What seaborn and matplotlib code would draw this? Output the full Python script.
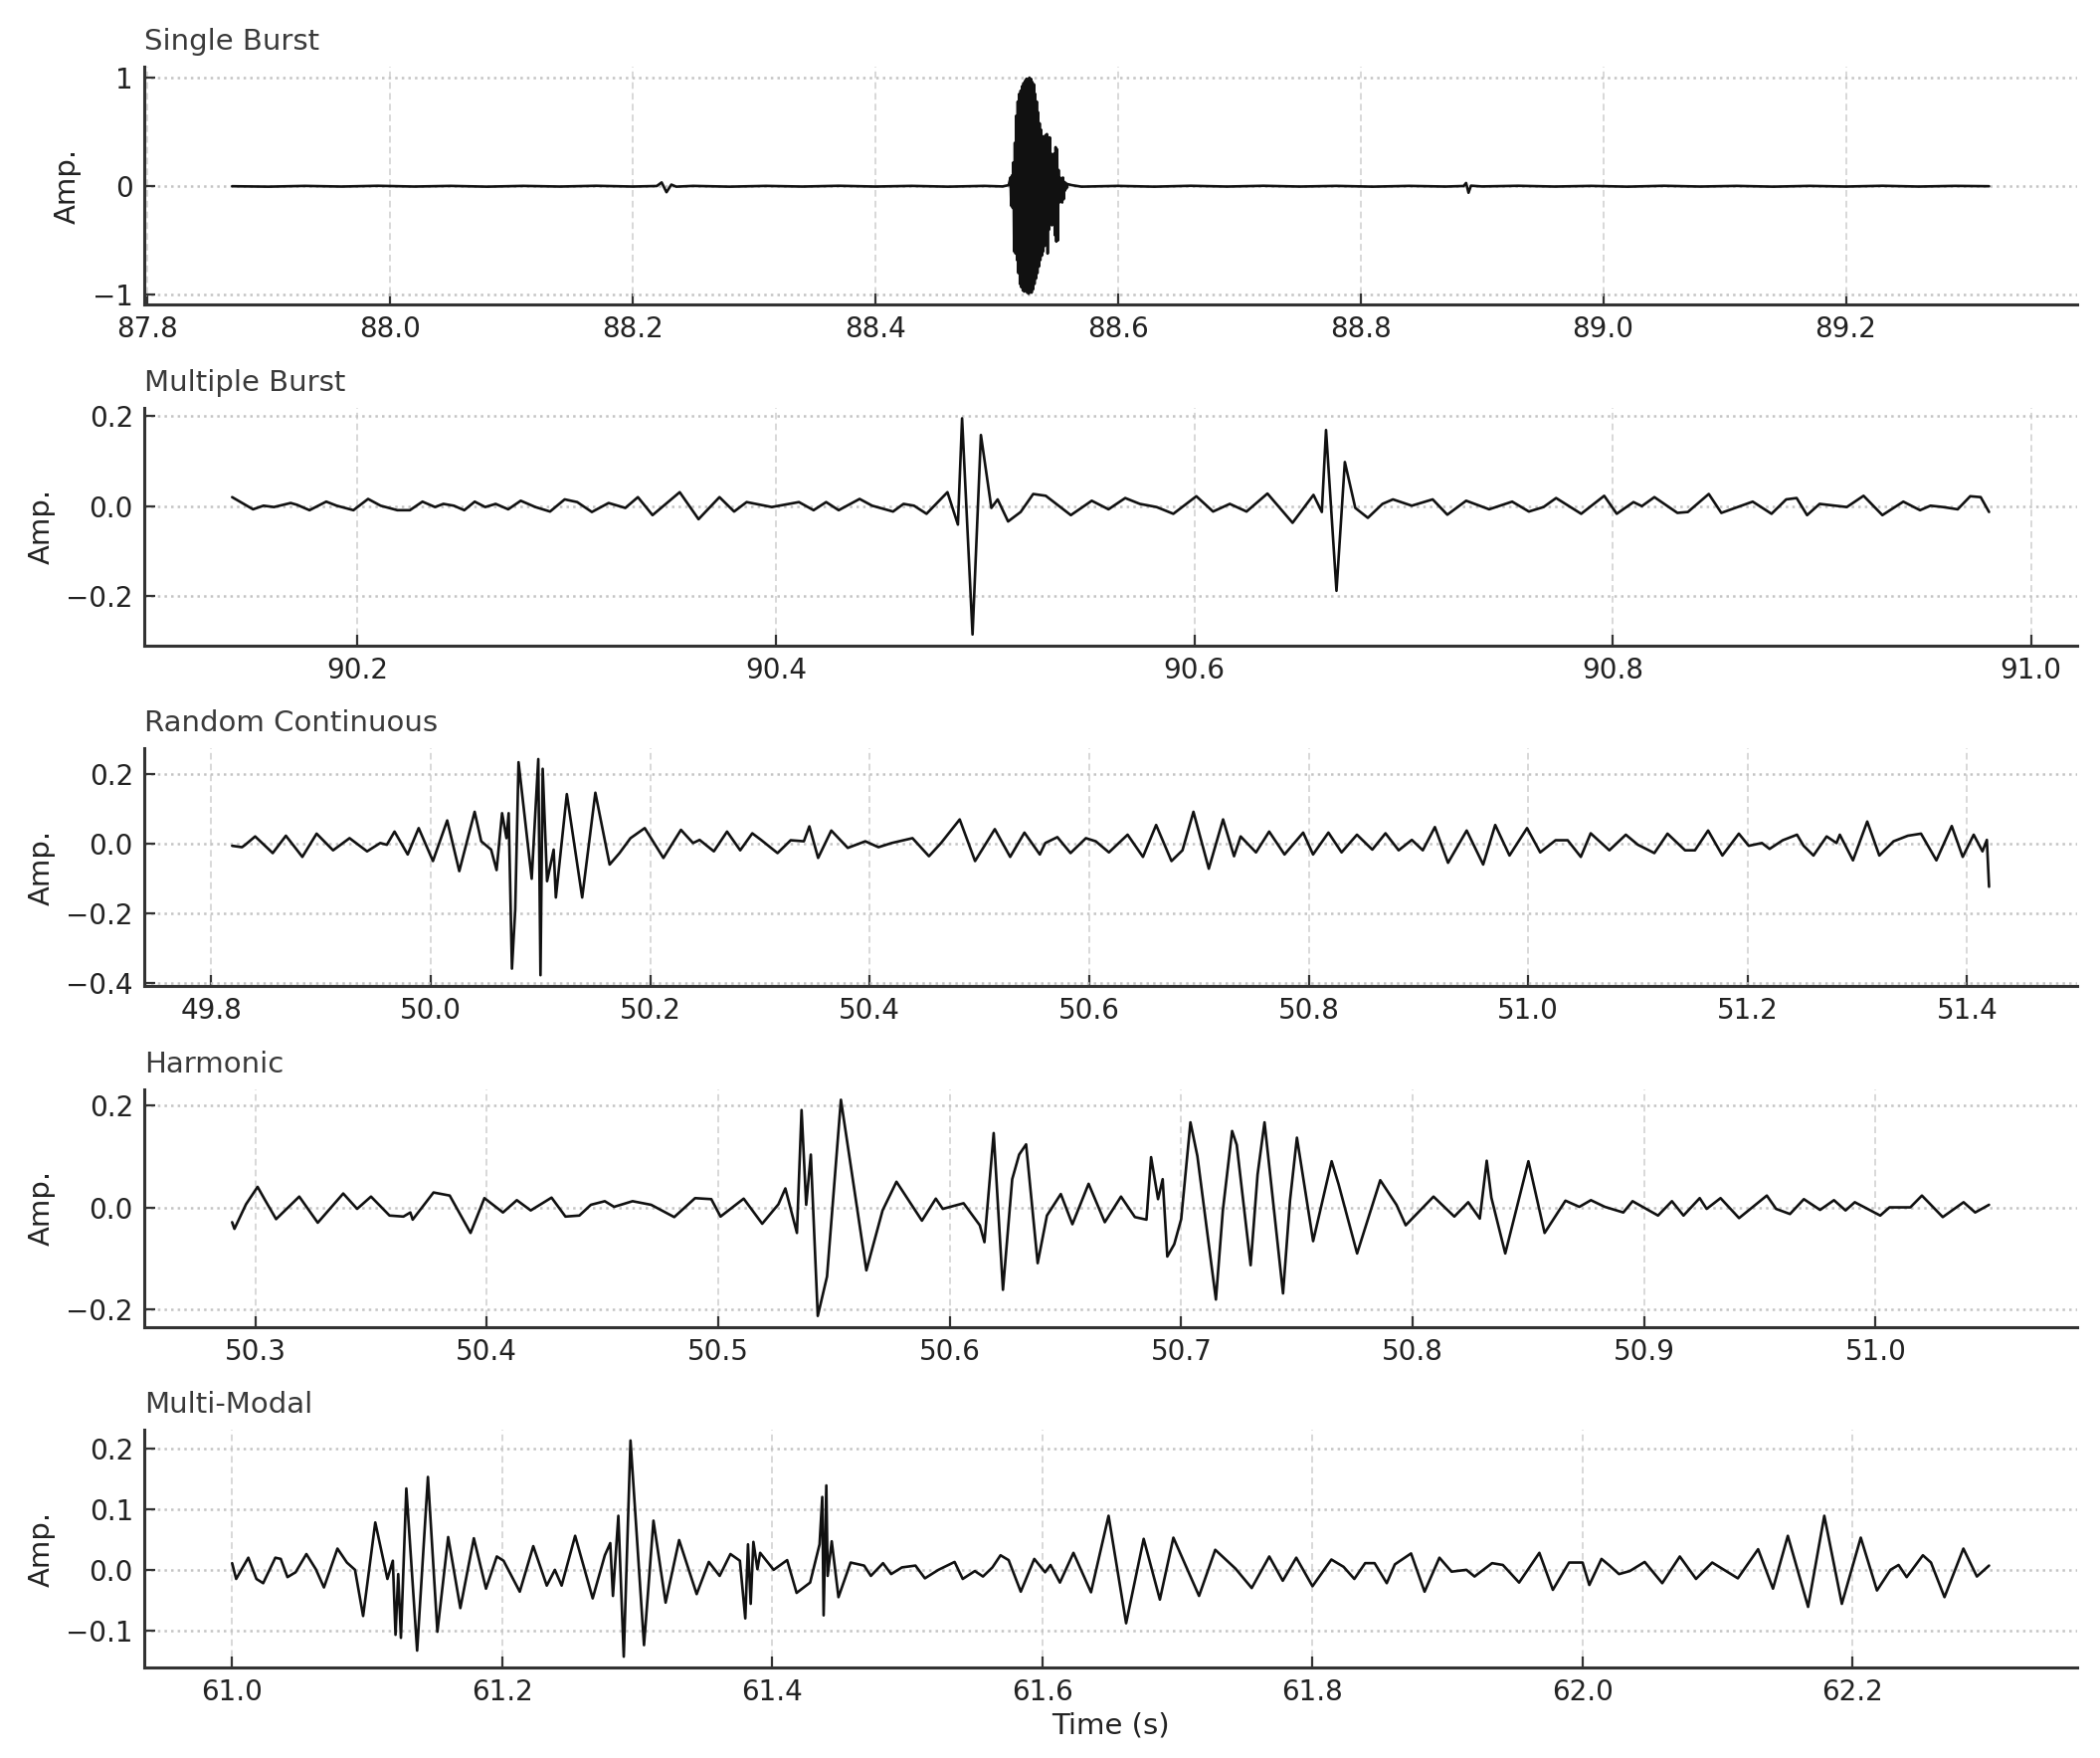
import matplotlib
matplotlib.use("Agg")
import pandas as pd
import matplotlib.pyplot as plt
from matplotlib.ticker import MultipleLocator
import seaborn as sns

# Single Burst
single_t = [87.870, 87.900, 87.930, 87.960, 87.990, 88.020, 88.050, 88.080, 88.110, 88.140,
            88.170, 88.200, 88.220, 88.224, 88.228, 88.232, 88.236, 88.250, 88.280, 88.310,
            88.340, 88.370, 88.400, 88.430, 88.460, 88.490, 88.505, 88.510,
            88.5115, 88.5121, 88.5127, 88.5133, 88.5139, 88.5145, 88.5151, 88.5157, 88.5163, 88.5169,
            88.5175, 88.5181, 88.5187, 88.5193, 88.5199, 88.5205, 88.5211, 88.5217, 88.5223, 88.5229,
            88.5235, 88.5241, 88.5247, 88.5253, 88.5259, 88.5265, 88.5271, 88.5277, 88.5283, 88.5289,
            88.5295, 88.5301, 88.5307, 88.5313, 88.5319, 88.5325, 88.5331, 88.5337, 88.5343, 88.5349,
            88.5355, 88.5361, 88.5367, 88.5373, 88.5379, 88.5385, 88.5391, 88.5397, 88.5403, 88.5409,
            88.5415, 88.5421, 88.5427, 88.5433, 88.5439, 88.5445, 88.5451, 88.5457, 88.5463, 88.5469,
            88.5475, 88.5481, 88.5487, 88.5493, 88.5499, 88.5505, 88.5511, 88.5517, 88.5523, 88.5529,
            88.5535, 88.5541, 88.5547, 88.5553, 88.5559, 88.5565, 88.5571, 88.5577, 88.5583,
            88.562, 88.570, 88.600, 88.630, 88.660, 88.690, 88.720, 88.750, 88.780, 88.810,
            88.840, 88.870, 88.885, 88.887, 88.889, 88.891, 88.900, 88.930, 88.960, 88.990,
            89.020, 89.050, 89.080, 89.110, 89.140, 89.170, 89.200, 89.230, 89.260, 89.290, 89.318]
single_amp = [0.000, -0.004, 0.003, -0.003, 0.004, -0.003, 0.003, -0.004, 0.003, -0.003,
              0.004, -0.003, 0.002, 0.035, -0.055, 0.015, -0.004, 0.003, -0.004, 0.003,
              -0.003, 0.004, -0.003, 0.003, -0.004, 0.003, -0.002, 0.010,
              0.08, -0.18, 0.10, -0.20, 0.22, -0.60, 0.40, -0.62, 0.65, -0.68,
              0.78, -0.80, 0.85, -0.90, 0.88, -0.93, 0.92, -0.96, 0.95, -0.97,
              0.97, -0.95, 0.99, -0.98, 0.98, -0.99, 1.00, -0.97, 0.99, -0.98,
              0.96, -0.95, 0.94, -0.90, 0.85, -0.85, 0.78, -0.80, 0.68, -0.74,
              0.58, -0.68, 0.52, -0.64, 0.46, -0.60, 0.44, -0.55, 0.47, -0.50,
              0.48, -0.62, 0.45, -0.40, 0.45, -0.28, 0.30, -0.36, 0.22, -0.34,
              0.30, -0.45, 0.36, -0.51, 0.34, -0.50, 0.15, -0.15, 0.08, -0.14,
              0.07, -0.15, 0.08, -0.12, 0.04, -0.04, 0.03, -0.02, 0.02,
              0.010, -0.004, 0.003, -0.004, 0.004, -0.003, 0.004, -0.003, 0.003, -0.004,
              0.003, -0.003, 0.002, 0.030, -0.060, 0.005, -0.002, 0.004, -0.003, 0.003,
              -0.004, 0.004, -0.003, 0.003, -0.004, 0.003, -0.003, 0.004, -0.003, 0.003, 0.000]

# Multiple Burst
multi_t = [90.140, 90.150, 90.155, 90.160, 90.168, 90.171, 90.177, 90.185, 90.190, 90.198,
           90.205, 90.211, 90.219, 90.225, 90.231, 90.237, 90.241, 90.246, 90.251, 90.256,
           90.261, 90.266, 90.272, 90.278, 90.285, 90.292, 90.299, 90.305, 90.312, 90.320,
           90.328, 90.334, 90.341, 90.354, 90.363, 90.373, 90.380, 90.386, 90.398, 90.411,
           90.418, 90.424, 90.430, 90.440, 90.446, 90.456, 90.461, 90.466, 90.472, 90.482,
           90.487, 90.489, 90.494, 90.498, 90.503, 90.506, 90.511, 90.517, 90.523,
           90.529, 90.541, 90.551, 90.559, 90.567, 90.574, 90.582, 90.590, 90.601, 90.609,
           90.617, 90.625, 90.635, 90.647, 90.657, 90.661, 90.663, 90.668, 90.672, 90.677,
           90.683, 90.690, 90.695, 90.704, 90.714, 90.721, 90.730, 90.741, 90.752, 90.760,
           90.767, 90.773, 90.785, 90.796, 90.802, 90.810, 90.814, 90.820, 90.831, 90.836,
           90.846, 90.852, 90.867, 90.876, 90.883, 90.888, 90.893, 90.899, 90.912, 90.920,
           90.929, 90.939, 90.947, 90.952, 90.958, 90.965, 90.971, 90.976, 90.980]
multi_amp = [0.020, -0.007, 0.001, -0.002, 0.007, 0.003, -0.009, 0.010, 0.001, -0.009,
             0.016, 0.001, -0.009, -0.009, 0.010, -0.002, 0.005, 0.001, -0.009, 0.010,
             -0.002, 0.005, -0.007, 0.012, -0.002, -0.012, 0.015, 0.009, -0.013, 0.007,
             -0.004, 0.020, -0.020, 0.031, -0.029, 0.020, -0.012, 0.009, -0.002, 0.009,
             -0.009, 0.009, -0.009, 0.016, 0.001, -0.012, 0.005, 0.001, -0.017, 0.031,
             -0.041, 0.195, -0.285, 0.158, -0.004, 0.015, -0.034, -0.013, 0.027,
             0.023, -0.020, 0.012, -0.007, 0.018, 0.005, -0.002, -0.017, 0.022, -0.012,
             0.005, -0.012, 0.028, -0.037, 0.025, -0.013, 0.169, -0.188, 0.098, -0.004,
             -0.026, 0.005, 0.015, 0.001, 0.015, -0.019, 0.012, -0.007, 0.010, -0.012,
             -0.002, 0.018, -0.017, 0.023, -0.017, 0.009, 0.000, 0.020, -0.015, -0.013,
             0.027, -0.015, 0.010, -0.017, 0.015, 0.018, -0.020, 0.005, -0.002, 0.023,
             -0.020, 0.010, -0.009, 0.001, -0.002, -0.007, 0.022, 0.020, -0.013]

# Random Continuous
random_t = [49.819, 49.828, 49.831, 49.840, 49.856, 49.868, 49.883, 49.896, 49.911, 49.926,
            49.942, 49.954, 49.960, 49.967, 49.979, 49.989, 50.002, 50.015, 50.026, 50.040,
            50.046, 50.055, 50.060, 50.065, 50.069, 50.071, 50.074, 50.077, 50.080, 50.092,
            50.098, 50.100, 50.102, 50.106, 50.112, 50.114, 50.124, 50.138, 50.150, 50.163,
            50.172, 50.182, 50.195, 50.212, 50.228, 50.239, 50.245, 50.258, 50.270, 50.282,
            50.293, 50.301, 50.316, 50.328, 50.340, 50.345, 50.353, 50.365, 50.380, 50.396,
            50.408, 50.420, 50.439, 50.454, 50.465, 50.482, 50.496, 50.514, 50.528, 50.541,
            50.555,
            50.560, 50.571, 50.583, 50.597, 50.606, 50.618, 50.635, 50.649, 50.661, 50.675,
            50.685, 50.695, 50.709, 50.722, 50.732, 50.738, 50.752, 50.764, 50.778, 50.795,
            50.804, 50.818, 50.830, 50.844, 50.858, 50.870, 50.882, 50.894, 50.904, 50.915,
            50.927, 50.944, 50.959, 50.970, 50.983, 50.999, 51.011, 51.025, 51.036, 51.048,
            51.057, 51.074, 51.089, 51.100, 51.115, 51.127, 51.143, 51.152, 51.164, 51.177,
            51.192, 51.201, 51.213, 51.220, 51.232, 51.245, 51.251, 51.260, 51.272, 51.281,
            51.284, 51.296, 51.309, 51.320, 51.333, 51.346, 51.358, 51.372, 51.386, 51.396,
            51.406, 51.414, 51.418, 51.420]
random_amp = [-0.006, -0.010, -0.003, 0.021, -0.027, 0.023, -0.038, 0.029, -0.019, 0.016,
              -0.022, 0.002, -0.003, 0.035, -0.031, 0.045, -0.050, 0.067, -0.079, 0.092,
              0.007, -0.017, -0.076, 0.088, 0.016, 0.088, -0.360, -0.189, 0.235, -0.101,
              0.244, -0.379, 0.216, -0.108, -0.017, -0.155, 0.143, -0.155, 0.147, -0.060,
              -0.027, 0.016, 0.045, -0.041, 0.040, 0.002, 0.011, -0.022, 0.035, -0.019,
              0.030, 0.011, -0.027, 0.010, 0.007, 0.050, -0.041, 0.038, -0.012, 0.007,
              -0.010, 0.002, 0.016, -0.036, 0.002, 0.070, -0.050, 0.042, -0.038, 0.032,
              -0.031,
              0.002, 0.019, -0.027, 0.016, 0.007, -0.025, 0.026, -0.038, 0.054, -0.050,
              -0.019, 0.092, -0.072, 0.070, -0.036, 0.021, -0.025, 0.035, -0.031, 0.032,
              -0.031, 0.032, -0.025, 0.026, -0.017, 0.030, -0.019, 0.011, -0.019, 0.048,
              -0.055, 0.038, -0.060, 0.054, -0.034, 0.045, -0.025, 0.010, 0.010, -0.038,
              0.030, -0.019, 0.026, -0.003, -0.027, 0.029, -0.019, -0.019, 0.038, -0.034,
              0.029, -0.006, 0.002, -0.015, 0.010, 0.026, -0.006, -0.034, 0.021, 0.002,
              0.026, -0.048, 0.064, -0.034, 0.007, 0.023, 0.029, -0.048, 0.051, -0.038,
              0.026, -0.022, 0.011, -0.124]

# Harmonic
harmonic_t = [50.290, 50.291, 50.296, 50.301, 50.304, 50.309, 50.319, 50.327, 50.338, 50.344,
              50.350, 50.358, 50.364, 50.367, 50.368, 50.377, 50.384, 50.393, 50.399, 50.407,
              50.413, 50.419, 50.428, 50.434, 50.440, 50.445, 50.451, 50.455, 50.463, 50.471,
              50.481, 50.490, 50.497, 50.501, 50.511, 50.519, 50.526, 50.529, 50.534, 50.536,
              50.538, 50.540, 50.543, 50.547, 50.553, 50.564, 50.571, 50.577, 50.588, 50.594,
              50.597, 50.606, 50.613, 50.615, 50.619, 50.623, 50.627, 50.630, 50.633, 50.638,
              50.642,
              50.648, 50.653, 50.660, 50.667, 50.674, 50.680, 50.685, 50.687, 50.690, 50.692,
              50.694, 50.697, 50.700, 50.704, 50.707, 50.715, 50.718, 50.722, 50.724, 50.730,
              50.733, 50.736, 50.744, 50.747, 50.750, 50.757, 50.765, 50.768, 50.776, 50.786,
              50.793, 50.797, 50.809, 50.818, 50.824, 50.829, 50.832, 50.834, 50.840, 50.850,
              50.857, 50.866, 50.872, 50.877, 50.883, 50.891, 50.895, 50.906, 50.912, 50.917,
              50.924, 50.927, 50.933, 50.941, 50.953, 50.957, 50.963, 50.969, 50.976, 50.982,
              50.987, 50.991, 51.002, 51.006, 51.015, 51.020, 51.029, 51.038, 51.043, 51.049]
harmonic_amp = [-0.029, -0.042, 0.006, 0.040, 0.016, -0.023, 0.021, -0.030, 0.027, -0.003,
                0.021, -0.016, -0.018, -0.010, -0.024, 0.029, 0.023, -0.050, 0.018, -0.010,
                0.014, -0.006, 0.019, -0.018, -0.016, 0.005, 0.012, 0.001, 0.012, 0.005,
                -0.019, 0.018, 0.016, -0.018, 0.017, -0.032, 0.006, 0.037, -0.050, 0.190,
                0.005, 0.103, -0.212, -0.135, 0.210, -0.123, -0.006, 0.050, -0.026, 0.017,
                -0.003, 0.008, -0.035, -0.068, 0.145, -0.161, 0.055, 0.103, 0.123, -0.109,
                -0.016,
                0.026, -0.033, 0.046, -0.029, 0.021, -0.019, -0.024, 0.098, 0.016, 0.055,
                -0.096, -0.072, -0.023, 0.166, 0.100, -0.180, -0.006, 0.149, 0.122, -0.113,
                0.064, 0.166, -0.168, 0.013, 0.136, -0.066, 0.090, 0.045, -0.090, 0.053,
                0.005, -0.035, 0.021, -0.018, 0.010, -0.022, 0.091, 0.019, -0.090, 0.090,
                -0.050, 0.013, 0.001, 0.014, 0.001, -0.010, 0.012, -0.016, 0.012, -0.016,
                0.018, -0.003, 0.018, -0.021, 0.023, -0.003, -0.013, 0.016, -0.005, 0.014,
                -0.006, 0.010, -0.016, 0.000, 0.000, 0.023, -0.019, 0.010, -0.010, 0.005]

# Multi-Modal
modal_t = [61.000, 61.003, 61.012, 61.018, 61.023, 61.032, 61.036, 61.041, 61.047, 61.055,
           61.062, 61.068, 61.078, 61.085, 61.091, 61.097, 61.106, 61.115, 61.119, 61.121,
           61.123, 61.125, 61.129, 61.137, 61.145, 61.152, 61.160, 61.169, 61.179, 61.188,
           61.196, 61.201, 61.213, 61.223, 61.233, 61.239, 61.244, 61.254, 61.267, 61.276,
           61.280, 61.282, 61.286, 61.290, 61.295, 61.305, 61.312, 61.321, 61.331, 61.344,
           61.353, 61.361, 61.369, 61.376, 61.380, 61.382, 61.384, 61.386, 61.389, 61.391,
           61.401, 61.411, 61.418, 61.428, 61.435, 61.437, 61.438, 61.440, 61.441, 61.444,
           61.449, 61.458, 61.468, 61.473, 61.482, 61.488, 61.496, 61.506, 61.513, 61.523,
           61.535, 61.541, 61.550, 61.556, 61.563, 61.569, 61.575, 61.584, 61.594, 61.602,
           61.606, 61.613, 61.623, 61.636, 61.649, 61.662, 61.675, 61.687, 61.697, 61.716,
           61.728, 61.743, 61.755, 61.768, 61.778, 61.788, 61.800, 61.814, 61.823, 61.831,
           61.839, 61.846, 61.855, 61.861, 61.873, 61.883, 61.894, 61.903, 61.914, 61.920,
           61.933, 61.941, 61.953, 61.968, 61.978, 61.990, 62.000, 62.005, 62.014, 62.020,
           62.027, 62.035, 62.046, 62.059, 62.072, 62.084, 62.096, 62.115, 62.130, 62.141,
           62.152, 62.167, 62.179, 62.192, 62.206, 62.218, 62.228, 62.234, 62.240, 62.252,
           62.258, 62.268, 62.282, 62.292, 62.301]
modal_amp = [0.011, -0.015, 0.020, -0.015, -0.022, 0.020, 0.018, -0.012, -0.004, 0.026,
             0.001, -0.029, 0.035, 0.012, 0.000, -0.076, 0.078, -0.015, 0.015, -0.107,
             -0.007, -0.112, 0.134, -0.133, 0.153, -0.102, 0.054, -0.063, 0.052, -0.031,
             0.022, 0.015, -0.036, 0.039, -0.026, 0.000, -0.026, 0.056, -0.047, 0.024,
             0.044, -0.043, 0.089, -0.143, 0.213, -0.124, 0.081, -0.054, 0.049, -0.040,
             0.013, -0.010, 0.026, 0.015, -0.080, 0.042, -0.056, 0.046, 0.001, 0.028,
             0.000, 0.016, -0.038, -0.021, 0.042, 0.120, -0.075, 0.139, -0.010, 0.047,
             -0.045, 0.012, 0.007, -0.010, 0.011, -0.007, 0.004, 0.007, -0.014, 0.000,
             0.013, -0.015, -0.002, -0.011, 0.004, 0.024, 0.016, -0.036, 0.018, -0.004,
             0.008, -0.021, 0.028, -0.037, 0.089, -0.088, 0.051, -0.049, 0.053, -0.043,
             0.033, 0.002, -0.030, 0.022, -0.018, 0.020, -0.027, 0.017, 0.005, -0.015,
             0.011, 0.011, -0.022, 0.009, 0.027, -0.036, 0.020, -0.003, 0.000, -0.011,
             0.011, 0.008, -0.021, 0.028, -0.033, 0.012, 0.012, -0.025, 0.018, 0.007,
             -0.007, -0.002, 0.013, -0.022, 0.022, -0.015, 0.012, -0.014, 0.034, -0.031,
             0.056, -0.061, 0.089, -0.056, 0.053, -0.034, 0.000, 0.008, -0.012, 0.024,
             0.012, -0.045, 0.035, -0.011, 0.007]

titles = ["Single Burst", "Multiple Burst", "Random Continuous", "Harmonic", "Multi-Modal"]
series = [(single_t, single_amp), (multi_t, multi_amp), (random_t, random_amp),
          (harmonic_t, harmonic_amp), (modal_t, modal_amp)]
yticks = [[-1, 0, 1], [-0.2, 0.0, 0.2], [-0.4, -0.2, 0.0, 0.2], [-0.2, 0.0, 0.2],
          [-0.1, 0.0, 0.1, 0.2]]
xsteps = [0.2, 0.2, 0.2, 0.1, 0.2]

sns.set_theme(style="white")
plt.rcParams["font.family"] = ["DejaVu Sans"]

fig, axes = plt.subplots(5, 1, figsize=(10.555, 8.835), dpi=200)
fig.subplots_adjust(left=0.0687, right=0.989, top=0.962, bottom=0.0515, hspace=0.433)

for ax, title, (t, a), yt, step in zip(axes, titles, series, yticks, xsteps):
    df = pd.DataFrame({"Time (s)": t, "Amp.": a})
    sns.lineplot(data=df, x="Time (s)", y="Amp.", ax=ax, color="#111111",
                 linewidth=0.95, estimator=None, sort=False,
                 solid_joinstyle="round")
    ax.set_yticks(yt)
    ax.xaxis.set_major_locator(MultipleLocator(step))
    ax.grid(axis="x", linestyle=(0, (4, 2.5)), color="#d2d2d2", linewidth=0.6)
    ax.grid(axis="y", linestyle=":", color="#c4c4c4", linewidth=0.9)
    ax.set_axisbelow(True)
    for side in ["top", "right"]:
        ax.spines[side].set_visible(False)
    for side in ["left", "bottom"]:
        ax.spines[side].set_color("#333333")
        ax.spines[side].set_linewidth(1.1)
    ax.tick_params(bottom=True, left=True, direction="in", length=4, width=0.8,
                   color="#333333", labelcolor="#222222", labelsize=10, pad=4)
    ax.set_title(title, loc="left", fontsize=10.5, color="#3a3a3a", pad=6)
    ax.set_ylabel("Amp.", fontsize=10.5, color="#222222")
    ax.set_xlabel("")

axes[-1].set_xlabel("Time (s)", fontsize=10.5, color="#222222", labelpad=2)

fig.savefig("out.png", dpi=200)
